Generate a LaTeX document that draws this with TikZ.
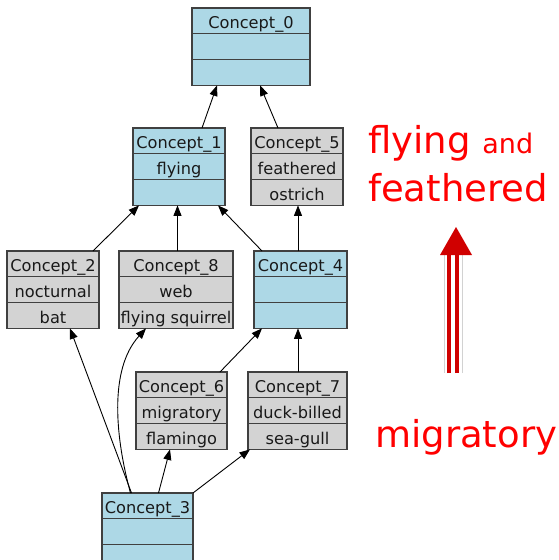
\documentclass[tikz,border=0pt]{standalone}
\usepackage{fontspec}
\setmainfont{DejaVu Sans}
\usetikzlibrary{calc,arrows.meta}
\definecolor{cblue}{HTML}{ADD8E6}
\definecolor{cgray}{HTML}{D3D3D3}
\definecolor{cborder}{HTML}{404040}
\definecolor{darrow}{HTML}{D00000}
\tikzset{
  cbox/.style={draw=cborder, line width=1.1pt, minimum height=77.4pt, inner sep=0pt, outer sep=0pt},
  cline/.style={draw=cborder, line width=1.1pt},
  ctext/.style={anchor=base, inner sep=0pt, font=\fontsize{16.2}{18}\selectfont, text=black!90},
  edge/.style={draw=black, line width=0.9pt, -{Triangle[length=10.5pt,width=8pt]}},
  redtxt/.style={anchor=base west, inner sep=0pt, text=red, font=\fontsize{37}{40}\selectfont},
}
\newcommand{\cpt}[8]{%
  \node[cbox, fill=#5, minimum width=#4pt, anchor=north] (#1) at (#2,#3) {};
  \draw[cline] ([yshift=-25.8pt]#1.north west) -- ([yshift=-25.8pt]#1.north east);
  \draw[cline] ([yshift=-51.6pt]#1.north west) -- ([yshift=-51.6pt]#1.north east);
  \node[ctext] (#1a) at ([yshift=-20.5pt]#1.north) {#6};
  \node[ctext] (#1b) at ([yshift=-46.3pt]#1.north) {#7};
  \node[ctext] (#1c) at ([yshift=-72.1pt]#1.north) {#8};
}
\begin{document}
\begin{tikzpicture}[x=1pt,y=-1pt]
\useasboundingbox (0,0) rectangle (558,560);
\clip (0,0) rectangle (558,560);
\cpt{c0}{251}{8}{118}{cblue}{Concept\_0}{}{}
\cpt{c1}{179}{128}{92}{cblue}{Concept\_1}{flying}{}
\cpt{c5}{297}{128}{92}{cgray}{Concept\_5}{feathered}{ostrich}
\cpt{c2}{53}{251}{92}{cgray}{Concept\_2}{nocturnal}{bat}
\cpt{c8}{176}{251}{114}{cgray}{Concept\_8}{web}{flying squirrel}
\cpt{c4}{300.5}{251}{93}{cblue}{Concept\_4}{}{}
\cpt{c6}{181.5}{372}{91}{cgray}{Concept\_6}{migratory}{flamingo}
\cpt{c7}{297.5}{372}{99}{cgray}{Concept\_7}{duck-billed}{sea-gull}
\cpt{c3}{147.5}{493}{91}{cblue}{Concept\_3}{}{}
% edges
\draw[edge] ($(c1.north)+(23,0)$) -- ($(c0.south)+(-34,0)$);
\draw[edge] ($(c5.north)+(-19,0)$) -- ($(c0.south)+(9,0)$);
\draw[edge] ($(c2.north east)+(-6,0)$) -- ($(c1.south west)+(6,0)$);
\draw[edge] ($(c8.north)+(1.5,0)$) -- ($(c1.south)+(-1.5,0)$);
\draw[edge] ($(c4.north west)+(8,0)$) -- ($(c1.south east)+(-7,0)$);
\draw[edge] ($(c4.north)+(-2.5,0)$) -- ($(c5.south)+(1,0)$);
\draw[edge] ($(c3.north)+(-16,0)$) -- ($(c2.south)+(17,0)$);
\draw[edge] ($(c3.north)+(-17,0)$) .. controls (116,440) and (108,370) .. ($(c8.south)+(-30,0)$);
\draw[edge] ($(c3.north)+(11,0)$) -- ($(c6.south)+(-11.5,0)$);
\draw[edge] (c3.north east) -- ($(c7.south west)+(2,0)$);
\draw[edge] ($(c6.north east)+(-7,0)$) -- ($(c4.south west)+(8,0)$);
\draw[edge] ($(c7.north)+(0.5,0)$) -- ($(c4.south)+(-2.5,0)$);
% red labels
\node[redtxt] (fly) at (368,153) {flying \fontsize{27}{30}\selectfont and};
\node[redtxt] (feat) at (368,201) {feathered};
\node[redtxt] (mig) at (375,447) {migratory};
% red arrow
\coordinate (rtail) at (453,373);
\coordinate (rhead) at (453,255);
\draw[gray!35, line width=0.8pt] ([xshift=-8.5pt]rtail) -- ([xshift=-8.5pt]rhead);
\draw[gray!35, line width=0.8pt] ([xshift=9pt]rtail) -- ([xshift=9pt]rhead);
\draw[darrow, line width=3.8pt] ([xshift=-4pt]rtail) -- ([xshift=-4pt]rhead);
\draw[darrow, line width=3.8pt] ([xshift=4pt]rtail) -- ([xshift=4pt]rhead);
\fill[darrow] ([xshift=-13pt]rhead) -- ([xshift=19pt]rhead) -- ([xshift=3pt,yshift=28pt]rhead) -- cycle;
\end{tikzpicture}
\end{document}
